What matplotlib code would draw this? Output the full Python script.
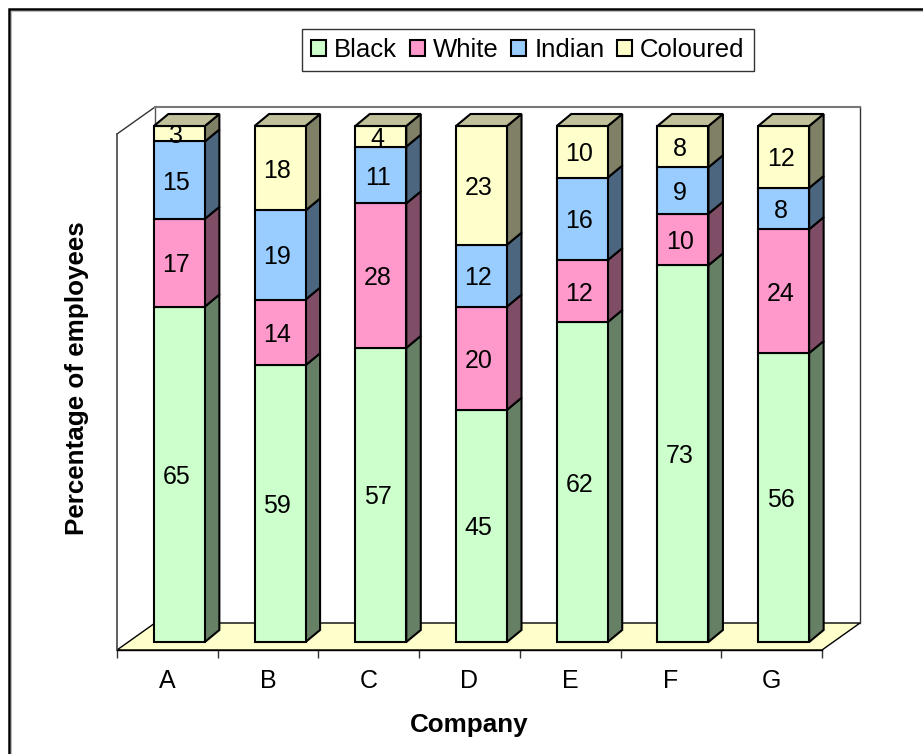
import matplotlib
matplotlib.use("Agg")
import matplotlib.pyplot as plt
from matplotlib.patches import Polygon, Patch
from matplotlib.lines import Line2D

companies = ["A", "B", "C", "D", "E", "F", "G"]
black = [65, 59, 57, 45, 62, 73, 56]
white = [17, 14, 28, 20, 12, 10, 24]
indian = [15, 19, 11, 12, 16, 9, 8]
coloured = [3, 18, 4, 23, 10, 8, 12]
series_names = ["Black", "White", "Indian", "Coloured"]
series_values = [black, white, indian, coloured]
front_colors = ["#CCFFCC", "#FF99CC", "#99CCFF", "#FFFFCC"]
side_colors = ["#668066", "#804D66", "#4D6680", "#808066"]
top_colors = ["#9ABF9A", "#BF739A", "#739ABF", "#C0C09A"]

W, H = 923, 754
plt.rcParams["font.family"] = ["Liberation Sans", "DejaVu Sans"]
fig = plt.figure(figsize=(W / 100, H / 100), dpi=100)
# border of the picture: open on the right and the bottom
fig.add_artist(Line2D([9.3 / W, 9.3 / W, 1], [0, 1 - 9.3 / H, 1 - 9.3 / H], transform=fig.transFigure,
                      color="black", lw=1.8, solid_joinstyle="miter"))
fig.add_artist(Line2D([11 / W, 11 / W, 1], [0, 1 - 11 / H, 1 - 11 / H], transform=fig.transFigure,
                      color="#BBBBBB", lw=0.8))

L, R, T, B = 117, 822, 134, 650
ax = fig.add_axes([L / W, 1 - B / H, (R - L) / W, (B - T) / H])
ax.set_xlim(-0.5, 6.5)
ax.set_ylim(0, 100)
ax.patch.set_visible(False)
px = 7 / (R - L)
py = 100 / (B - T)

# 3D shell
wdx, wdy = 38 * px, 27 * py
ax.add_patch(Polygon([(-0.5, 0), (6.5, 0), (6.5 + wdx, wdy), (-0.5 + wdx, wdy)], closed=True,
                     fc="#FFFFCC", ec="black", lw=1.0, clip_on=False, zorder=1))
ax.plot([-0.5, -0.5 + wdx], [100, 100 + wdy], color="#333333", lw=1.0, clip_on=False, zorder=1)
ax.plot([6.5 + wdx, 6.5 + wdx], [100 + wdy, wdy], color="#333333", lw=1.0, clip_on=False, zorder=1)
ax.plot([-0.5 + wdx, -0.5 + wdx], [wdy, 100 + wdy], color="#555555", lw=1.0, clip_on=False, zorder=1)
ax.plot([-0.5 + wdx, 6.5 + wdx], [100 + wdy, 100 + wdy], color="#777777", lw=1.5, clip_on=False, zorder=1)

# 100 % stacked 3D bars
bw = 51 * px
ox, oy = 12 * px, 8 * py
dx, dy = 14.5 * px, 12 * py
for i in range(len(companies)):
    total = sum(vals[i] for vals in series_values)
    base = 0
    x0 = i - bw / 2 + ox
    x1 = x0 + bw
    for s, vals in enumerate(series_values):
        v = vals[i]
        share = 100 * v / total
        y0, y1 = oy + base, oy + base + share
        style = dict(ec="black", lw=1.5, joinstyle="miter", clip_on=False, zorder=3 + i)
        ax.add_patch(Polygon([(x1, y0), (x1 + dx, y0 + dy), (x1 + dx, y1 + dy), (x1, y1)], fc=side_colors[s], **style))
        ax.add_patch(Polygon([(x0, y0), (x1, y0), (x1, y1), (x0, y1)], fc=front_colors[s], **style))
        if s == len(series_values) - 1:
            ax.add_patch(Polygon([(x0, y1), (x1, y1), (x1 + dx, y1 + dy), (x0 + dx, y1 + dy)], fc=top_colors[s], **style))
        ax.text(i + ox - 3 * px, (y0 + y1) / 2 - 2.5 * py, str(v), ha="center", va="center", fontsize=18,
                color="black", clip_on=False, zorder=30)
        base += share

# axes
for side in ["top", "right"]:
    ax.spines[side].set_visible(False)
ax.spines["left"].set_color("#444444")
ax.spines["left"].set_linewidth(1.2)
ax.spines["bottom"].set_linewidth(1.0)
ax.set_yticks([])
ax.set_xticks([i - 0.5 for i in range(len(companies) + 1)])
ax.set_xticklabels([])
ax.set_xticks(range(len(companies)), minor=True)
ax.set_xticklabels(companies, minor=True, fontsize=18)
ax.tick_params(axis="x", which="major", length=6, width=1.0, color="#333333")
ax.tick_params(axis="x", which="minor", length=0, pad=14)
ax.set_xlabel("Company", fontsize=18.7, fontweight="bold", labelpad=14)
ax.set_ylabel("Percentage of employees", fontsize=18.7, fontweight="bold", labelpad=20, y=0.527)

handles = [Patch(fc=c, ec="black", lw=1.5) for c in front_colors]
leg = fig.legend(handles, series_names, ncol=4, loc="center", bbox_to_anchor=(528 / W, 1 - 50 / H),
                 fontsize=18.5, frameon=True, fancybox=False, edgecolor="#333333", framealpha=1,
                 handlelength=0.58, handleheight=0.58, handletextpad=0.31, columnspacing=0.5,
                 borderpad=0.36, borderaxespad=0)
leg.get_frame().set_linewidth(1.0)

fig.savefig("out.png", dpi=100)
